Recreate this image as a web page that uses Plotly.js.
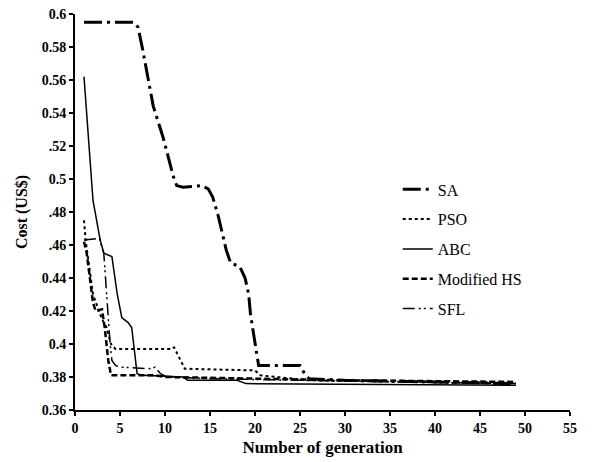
<!DOCTYPE html>
<html>
<head>
<meta charset="utf-8">
<script src="https://cdn.plot.ly/plotly-3.0.1.min.js"></script>
<style>html,body{margin:0;padding:0;background:#fff;}#chart{width:593px;height:462px;}</style>
</head>
<body>
<div id="chart"></div>
<script>
// Series data (generation, cost US$)
const saX  = [1, 6.5, 7, 7.5, 8.7, 9.8, 10.9, 11.3, 12, 14, 14.8, 15.3, 15.9, 16.8, 17.3, 18.3, 18.9, 19.3, 19.5, 20.2, 20.4, 25, 25.4, 26, 30, 40, 49];
const saY  = [0.595, 0.595, 0.592, 0.579, 0.544, 0.525, 0.502, 0.496, 0.495, 0.496, 0.494, 0.489, 0.478, 0.457, 0.449, 0.447, 0.44, 0.43, 0.418, 0.395, 0.387, 0.387, 0.383, 0.379, 0.378, 0.377, 0.376];

const psoX = [1, 1.2, 2, 3, 3.5, 4, 4.5, 10.7, 11, 12.2, 20, 20.6, 26, 35, 48];
const psoY = [0.475, 0.462, 0.43, 0.415, 0.41, 0.40, 0.397, 0.397, 0.398, 0.385, 0.384, 0.381, 0.378, 0.377, 0.376];

const abcX = [1, 2, 2.8, 3.2, 4.1, 4.7, 5.2, 5.9, 6.3, 6.9, 7.5, 12, 12.5, 18, 19, 49];
const abcY = [0.562, 0.487, 0.463, 0.455, 0.453, 0.43, 0.416, 0.413, 0.41, 0.382, 0.381, 0.380, 0.378, 0.378, 0.376, 0.375];

const hsX  = [1, 1.3, 2, 2.3, 3, 3.3, 3.7, 4, 9, 10, 20, 30, 49];
const hsY  = [0.462, 0.455, 0.425, 0.42, 0.421, 0.41, 0.39, 0.381, 0.381, 0.380, 0.379, 0.378, 0.377];

const sflX = [1, 2.7, 3.2, 3.5, 3.7, 3.9, 4.1, 4.5, 5, 8.5, 8.9, 9.5, 10.2, 15, 25, 49];
const sflY = [0.463, 0.464, 0.455, 0.43, 0.41, 0.40, 0.39, 0.387, 0.386, 0.385, 0.386, 0.382, 0.380, 0.379, 0.378, 0.376];

const seriesNames = ["SA", "PSO", "ABC", "Modified HS", "SFL"];

const yTickVals = [0.36, 0.38, 0.4, 0.42, 0.44, 0.46, 0.48, 0.5, 0.52, 0.54, 0.56, 0.58, 0.6];
const yTickText = ["0.36", "0.38", "0.4", "0.42", "0.44", ".46", ".48", "0.5", ".52", "0.54", "0.56", "0.58", "0.6"];
const xTickVals = [0, 5, 10, 15, 20, 25, 30, 35, 40, 45, 50, 55];

const serif = "Liberation Serif";

const traces = [
  {x: saX, y: saY, name: seriesNames[0], line: {color: "#000", width: 3, dash: "18px,5px,3px,5px"}},
  {x: psoX, y: psoY, name: seriesNames[1], line: {color: "#000", width: 2, dash: "dot"}},
  {x: abcX, y: abcY, name: seriesNames[2], line: {color: "#000", width: 1.5}},
  {x: hsX, y: hsY, name: seriesNames[3], line: {color: "#000", width: 2.5, dash: "6px,3px"}},
  {x: sflX, y: sflY, name: seriesNames[4], line: {color: "#000", width: 1.5, dash: "12px,4px,2px,3px,2px,4px"}}
].map((t, i) => Object.assign({type: "scatter", mode: "lines", legendgroup: "g" + i}, t));

const layout = {
  width: 593, height: 462,
  margin: {l: 75, r: 23, t: 14, b: 52},
  paper_bgcolor: "#fff", plot_bgcolor: "#fff",
  font: {family: serif, color: "#000"},
  showlegend: true,
  legend: {x: 0.652, y: 0.6, xanchor: "left", yanchor: "top", bgcolor: "rgba(0,0,0,0)",
           font: {family: serif, size: 16, color: "#000"}, tracegroupgap: 6, traceorder: "grouped"},
  xaxis: {range: [0, 55], tickvals: xTickVals, showgrid: false, zeroline: false,
          showline: true, linecolor: "#000", linewidth: 2, ticks: "outside", ticklen: 4, tickwidth: 2, tickcolor: "#000",
          tickfont: {family: serif, size: 14, color: "#000", weight: "bold"},
          title: {text: "<b>Number of generation</b>", font: {family: serif, size: 17, color: "#000"}, standoff: 6}},
  yaxis: {range: [0.36, 0.6], tickvals: yTickVals, ticktext: yTickText, showgrid: false, zeroline: false,
          showline: true, linecolor: "#000", linewidth: 2, ticks: "outside", ticklen: 4, tickwidth: 2, tickcolor: "#000",
          tickfont: {family: serif, size: 14, color: "#000", weight: "bold"},
          title: {text: "<b>Cost (US$)</b>", font: {family: serif, size: 16, color: "#000"}, standoff: 10}}
};

Plotly.newPlot("chart", traces, layout, {displayModeBar: false, staticPlot: true});
</script>
</body>
</html>
